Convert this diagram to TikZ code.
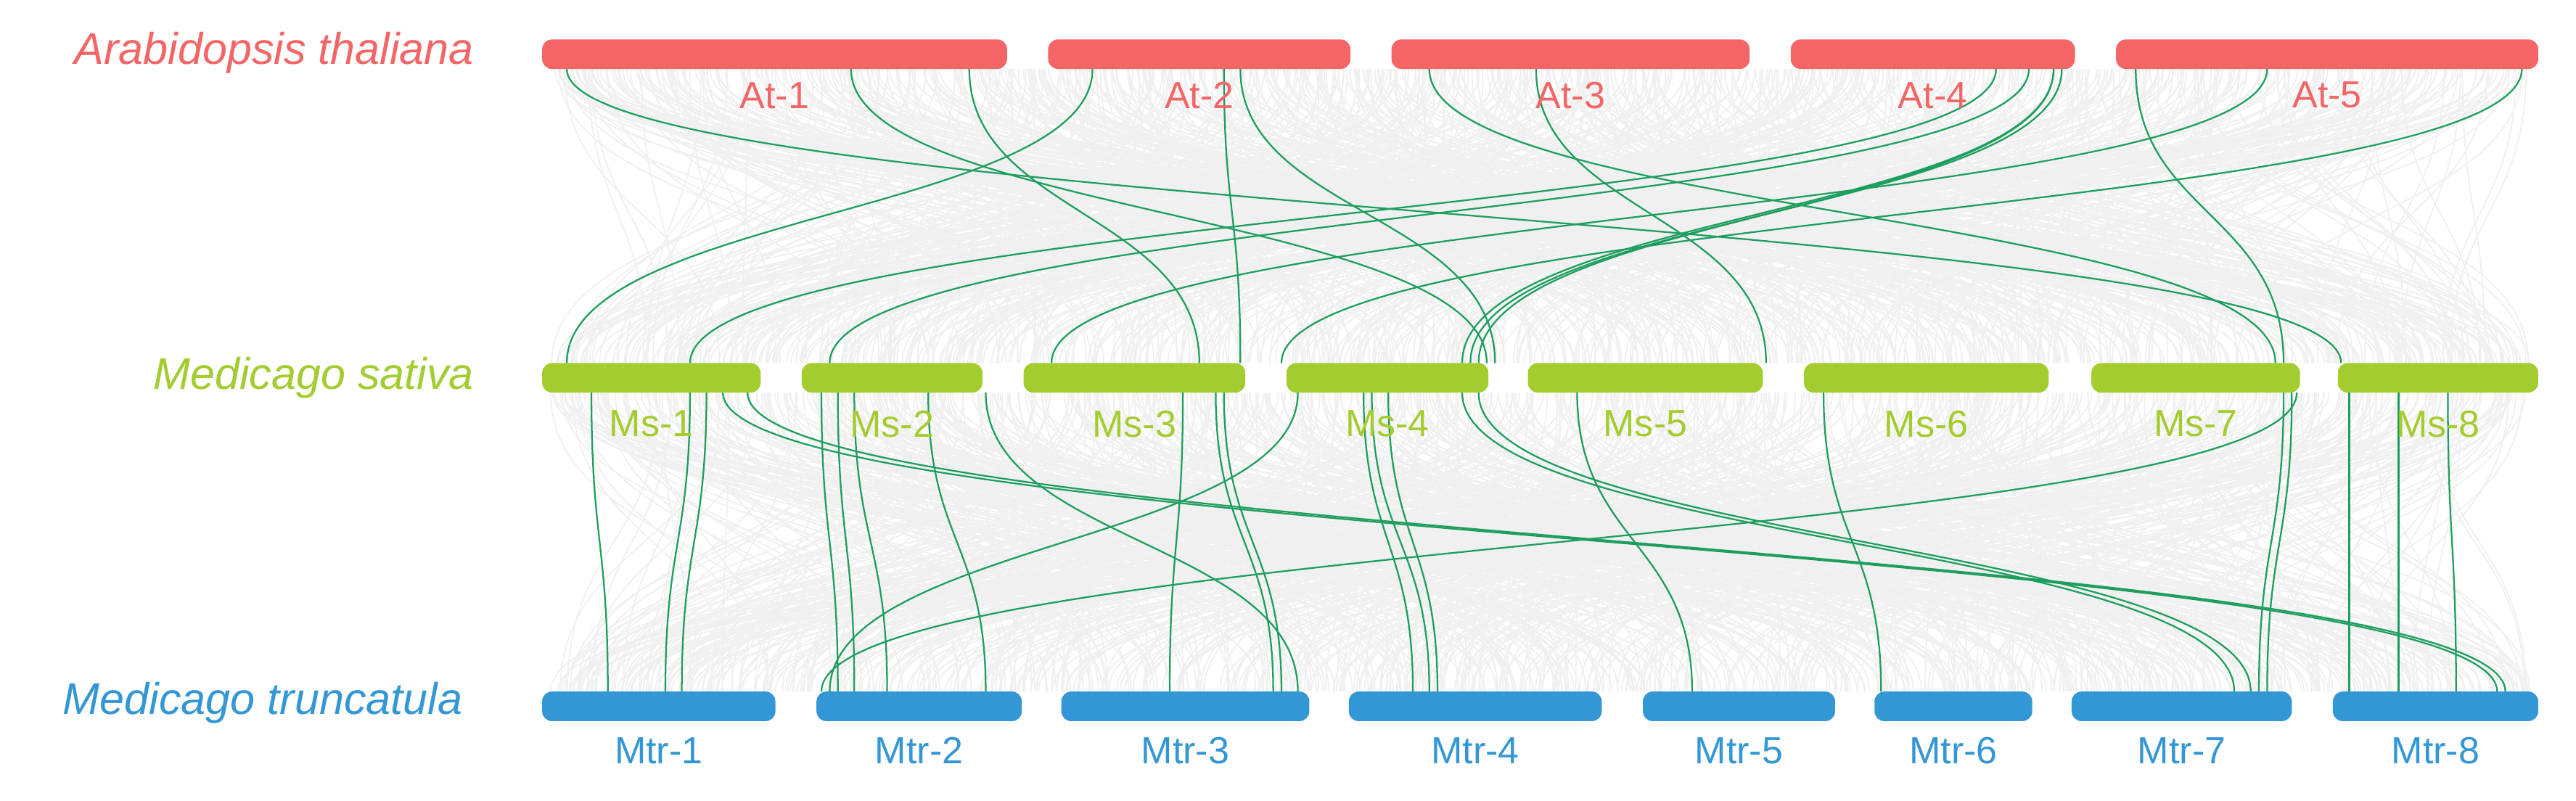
\documentclass[tikz,border=0pt]{standalone}
\usepackage{fontspec}
\setmainfont{Liberation Sans}
\begin{document}
\begin{tikzpicture}[x=1pt,y=-1pt,
  bar/.style={rounded corners=6pt,draw=none},
  atbar/.style={bar,fill=atc},msbar/.style={bar,fill=msc},mtbar/.style={bar,fill=mtc},
  lab/.style={font=\fontsize{23}{23}\selectfont,anchor=center},
  sp/.style={font=\fontsize{27}{27}\selectfont\itshape,anchor=east},
  gr/.style={draw=black!6,line width=0.8pt},
  gn/.style={draw=gnc,line width=1pt}]
\definecolor{atc}{HTML}{F46566}
\definecolor{msc}{HTML}{A3CC2F}
\definecolor{mtc}{HTML}{3497D5}
\definecolor{gnc}{HTML}{1E9E5E}
\useasboundingbox (0,0) rectangle (1568,487.6);
% grey background links
\pgfmathsetseed{7}
\foreach \i in {1,...,900}{
  \pgfmathsetmacro\a{335+1205*rnd}\pgfmathsetmacro\b{335+1205*rnd}
  \draw[gr] (\a,42) .. controls (\a,130) and (\b,130) .. (\b,221);
  \pgfmathsetmacro\c{335+1205*rnd}\pgfmathsetmacro\d{335+1205*rnd}
  \draw[gr] (\c,239) .. controls (\c,330) and (\d,330) .. (\d,421);
}
% green links top-middle
\foreach \a/\b in {345/1425,518/905,590/730,665/345,745/755,755/910,870/1385,935/1075,1215/420,1235/505,1250/890,1255/895,1300/1390,1380/640,1535/780,1250/900}{
  \draw[gn] (\a,42) .. controls (\a,130) and (\b,130) .. (\b,221);}
% green links middle-bottom
\foreach \a/\b in {360/370,420/405,430/415,440/1520,455/1525,500/510,510/520,520/540,565/600,740/775,745/780,720/712,830/860,835/870,845/875,890/1360,900/1370,790/505,960/1030,1110/1145,1390/1375,1395/1380,1398/500,1430/1430,1460/1460,1490/1495,600/790}{
  \draw[gn] (\a,239) .. controls (\a,330) and (\b,330) .. (\b,421);}
% bars
\foreach \n/\lo/\hi in {At-1/330/613,At-2/638/822,At-3/847/1065,At-4/1090/1263,At-5/1288/1545}{
  \fill[atbar] (\lo,24) rectangle (\hi,42);
  \node[lab,text=atc] (\n) at ({(\lo+\hi)/2},58) {\n};}
\foreach \n/\lo/\hi in {Ms-1/330/463,Ms-2/488/598,Ms-3/623/758,Ms-4/783/906,Ms-5/930/1073,Ms-6/1098/1247,Ms-7/1273/1400,Ms-8/1423/1545}{
  \fill[msbar] (\lo,221) rectangle (\hi,239);
  \node[lab,text=msc] (\n) at ({(\lo+\hi)/2},258) {\n};}
\foreach \n/\lo/\hi in {Mtr-1/330/472,Mtr-2/497/622,Mtr-3/646/797,Mtr-4/821/975,Mtr-5/1000/1117,Mtr-6/1141/1237,Mtr-7/1261/1395,Mtr-8/1420/1545}{
  \fill[mtbar] (\lo,421) rectangle (\hi,439);
  \node[lab,text=mtc] (\n) at ({(\lo+\hi)/2},457) {\n};}
\node[sp,text=atc] (sa) at (292,32) {Arabidopsis thaliana};
\node[sp,text=msc] (sm) at (292,230) {Medicago sativa};
\node[sp,text=mtc] (st) at (285,428) {Medicago truncatula};
\end{tikzpicture}
\end{document}
